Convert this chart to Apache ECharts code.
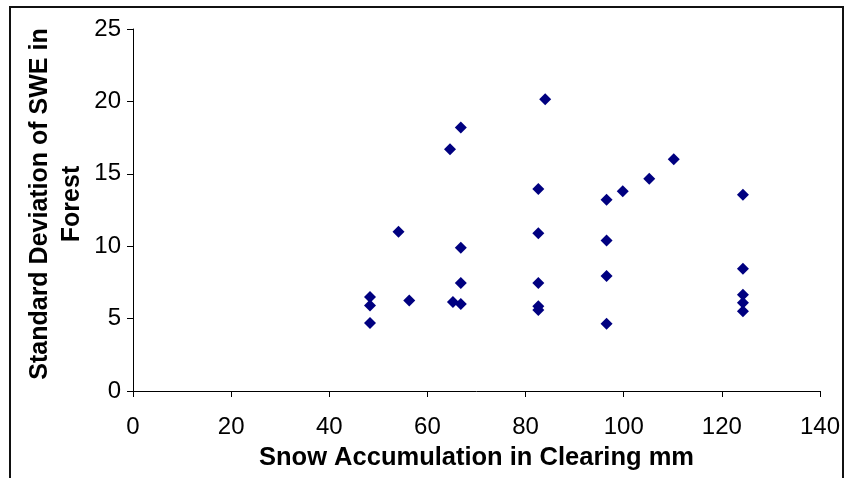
<!DOCTYPE html>
<html lang="en">

<head>
  <meta charset="UTF-8">
  <title>SWE scatter</title>
  <style>
    * {
      margin: 0;
      padding: 0;
      box-sizing: border-box;
    }

    body {
      background-color: #fff;
    }

    #chart {
      width: 847px;
      height: 478px;
    }
  </style>
</head>

<body>
  <div id="chart"></div>
  <script src="https://cdn.jsdelivr.net/npm/echarts@6/dist/echarts.min.js"></script>
  <script>
    // snow accumulation in clearing (mm)
    const clearing = [
      48.3, 48.3, 48.3,
      54.1, 56.3, 64.6, 65.2,
      66.8, 66.8, 66.8, 66.8,
      82.6, 82.6, 82.6, 82.6, 82.6,
      84.0,
      96.5, 96.5, 96.5, 96.5,
      99.8, 105.2, 110.2,
      124.3, 124.3, 124.3, 124.3, 124.3
    ]
    // standard deviation of SWE in forest
    const sdForest = [
      6.5, 5.9, 4.7,
      11.0, 6.25, 16.7, 6.15,
      18.2, 9.9, 7.45, 6.0,
      13.95, 10.9, 7.45, 5.85, 5.6,
      20.15,
      13.2, 10.4, 7.95, 4.65,
      13.8, 14.65, 16.0,
      13.55, 8.45, 6.65, 6.1, 5.5
    ]
    const xTicks = [0, 20, 40, 60, 80, 100, 120, 140]
    const yTicks = [0, 5, 10, 15, 20, 25]

    const points = clearing.map((x, i) => [x, sdForest[i]])

    const font = 'Arial, "Liberation Sans", sans-serif'
    const axisLine = { show: true, lineStyle: { color: '#000', width: 1 } }

    const chart = echarts.init(document.querySelector('#chart'))
    const options = {
      animation: false,
      backgroundColor: '#fff',
      grid: {
        left: 133,
        right: 27,
        top: 29,
        bottom: 87
      },
      graphic: [
        {
          type: 'rect',
          shape: { x: 10, y: 7, width: 833, height: 500 },
          style: { fill: 'none', stroke: '#111', lineWidth: 2 },
          silent: true
        }
      ],
      xAxis: {
        type: 'value',
        min: xTicks[0],
        max: xTicks[xTicks.length - 1],
        interval: 20,
        name: 'Snow Accumulation in Clearing mm',
        nameLocation: 'middle',
        nameGap: 54,
        nameTextStyle: { fontFamily: font, fontSize: 25.5, fontWeight: 'bold', color: '#000' },
        axisLine: axisLine,
        axisTick: { show: true, length: 6, lineStyle: { color: '#000' } },
        axisLabel: { fontFamily: font, fontSize: 24, color: '#000', margin: 24 },
        splitLine: { show: false }
      },
      yAxis: {
        type: 'value',
        min: yTicks[0],
        max: yTicks[yTicks.length - 1],
        interval: 5,
        name: 'Standard Deviation of SWE in\nForest',
        nameLocation: 'middle',
        nameGap: 45,
        nameMoveOverlap: false,
        nameTextStyle: {
          fontFamily: font, fontSize: 25, fontWeight: 'bold', color: '#000',
          lineHeight: 32, padding: [0, 0, 0, 12]
        },
        axisLine: axisLine,
        axisTick: { show: true, length: 6, lineStyle: { color: '#000' } },
        axisLabel: { fontFamily: font, fontSize: 24, color: '#000', margin: 12 },
        splitLine: { show: false }
      },
      series: [
        {
          type: 'scatter',
          symbol: 'diamond',
          symbolSize: 12,
          itemStyle: { color: '#000080', opacity: 1 },
          data: points
        }
      ]
    }

    chart.setOption(options)
  </script>
</body>

</html>
